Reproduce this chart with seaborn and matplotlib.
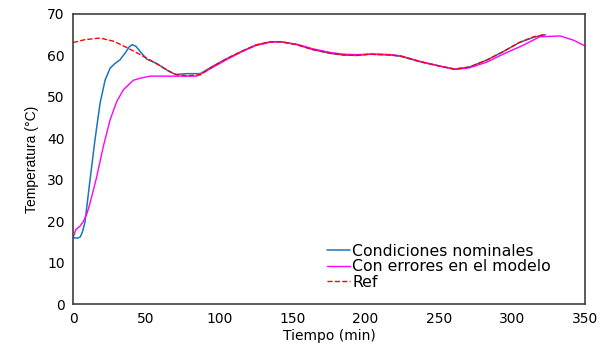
import numpy as np
import pandas as pd
import seaborn as sns
import matplotlib.pyplot as plt

# Condiciones nominales (blue)
t_nom = [0, 3, 5, 6.5, 8.2, 11.6, 15, 18.5, 21.9, 25.3, 28.5, 32, 35.5, 38.5, 40.5,
         43, 46, 50.4, 57, 64, 70, 78, 87, 96, 105, 116, 125, 135, 142, 153, 164,
         176, 185, 194, 203, 210, 217, 224, 237, 251, 261, 271, 283, 294, 305, 315, 323]
v_nom = [16, 15.9, 16.2, 17.5, 19.8, 29.9, 39.6, 48.5, 54, 56.9, 58.0, 58.9, 60.5, 62.1,
         62.6, 62.2, 60.9, 59.1, 58.1, 56.5, 55.4, 55.6, 55.6, 57.5, 59.2, 61.1, 62.5,
         63.3, 63.3, 62.6, 61.4, 60.5, 60.1, 60.0, 60.3, 60.2, 60.1, 59.8, 58.5, 57.4,
         56.7, 57.2, 58.9, 60.9, 63.1, 64.4, 65.0]

# Con errores en el modelo (magenta)
t_err = [0, 2, 4.8, 7, 9.5, 11.6, 16.2, 20.7, 25.3, 29.8, 34.4, 41.2, 46, 52.6, 60,
         70, 84.5, 96, 105, 116, 125, 135, 142, 153, 164, 176, 185, 194, 203, 210,
         217, 224, 237, 251, 261, 271, 283, 294, 308, 319, 333, 342, 350]
v_err = [16, 18, 18.8, 19.9, 21.8, 24.3, 30.7, 38, 44.4, 48.8, 51.7, 54, 54.5, 55, 55,
         55, 55, 57.2, 59.0, 61.0, 62.4, 63.2, 63.3, 62.7, 61.6, 60.7, 60.3, 60.2,
         60.3, 60.3, 60.2, 59.9, 58.6, 57.4, 56.6, 57.0, 58.4, 60.3, 62.5, 64.5, 64.7,
         63.7, 62.3]

# Ref (red dashed)
t_ref = [0, 8, 18.5, 28, 39, 46, 52.6, 60, 66, 71, 78, 87, 96, 105, 116, 125, 135,
         142, 153, 164, 176, 185, 194, 203, 210, 217, 224, 237, 251, 261, 271, 283,
         294, 305, 315, 323]
v_ref = [63.1, 63.8, 64.2, 63.4, 61.5, 60.2, 58.9, 57.4, 56.1, 55.3, 55.1, 55.3, 57.4,
         59.2, 61.1, 62.5, 63.3, 63.3, 62.6, 61.4, 60.5, 60.1, 60.0, 60.3, 60.2, 60.1,
         59.8, 58.5, 57.4, 56.7, 57.2, 58.9, 60.9, 63.1, 64.5, 65.1]

sns.set_style('white')
plt.rcParams['font.family'] = ['DejaVu Sans']
plt.rcParams['text.color'] = 'black'
plt.rcParams['xtick.color'] = 'black'
plt.rcParams['ytick.color'] = 'black'
plt.rcParams['axes.labelcolor'] = 'black'

fig = plt.figure(figsize=(6, 3.48), dpi=100)
ax = fig.add_axes([0.1217, 0.1264, 0.8533, 0.8334])

sns.lineplot(x=t_nom, y=v_nom, ax=ax, color='#1B75BC', lw=1.1,
             label='Condiciones nominales', sort=False)
sns.lineplot(x=t_err, y=v_err, ax=ax, color='#FF00FF', lw=1.0,
             label='Con errores en el modelo', sort=False)
sns.lineplot(x=t_ref, y=v_ref, ax=ax, color='#FF0000', lw=1.0, linestyle='--',
             label='Ref', sort=False)

ax.set_xlim(0, 350)
ax.set_ylim(0, 70)
ax.set_xticks(np.arange(0, 351, 50))
ax.set_yticks(np.arange(0, 71, 10))
ax.tick_params(axis='both', length=0, labelsize=10, pad=6)
ax.set_xlabel('Tiempo (min)', fontsize=10, labelpad=2)
ax.set_ylabel('Temperatura (°C)', fontsize=10, labelpad=6,
              family=['Liberation Sans', 'DejaVu Sans'])
for s in ax.spines.values():
    s.set_color('#404040')
    s.set_linewidth(1.2)

ax.legend(loc='lower left', bbox_to_anchor=(0.496, 0.05), frameon=False,
          fontsize=11.3, handlelength=1.47, handletextpad=0.13, labelspacing=0.02,
          borderpad=0, borderaxespad=0)

fig.savefig('out.png', dpi=100)
